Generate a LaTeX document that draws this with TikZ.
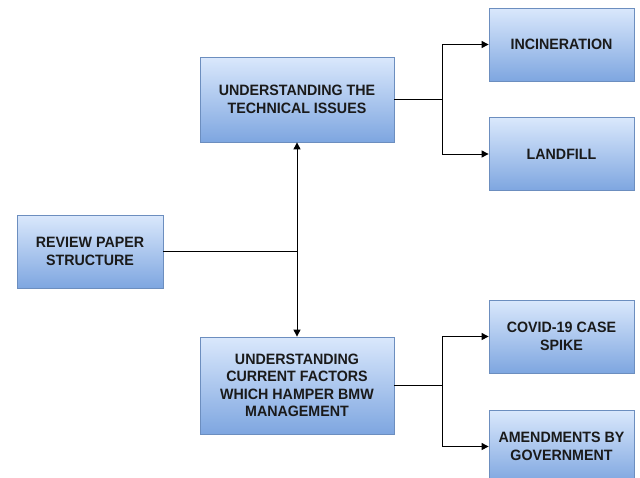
\documentclass[tikz,border=0pt]{standalone}
\usepackage{fontspec}
\setmainfont{Liberation Sans}[FakeStretch=0.95]
\usetikzlibrary{positioning,arrows.meta}
\definecolor{boxtop}{HTML}{DAE8FC}
\definecolor{boxbottom}{HTML}{7EA6E0}
\definecolor{boxline}{HTML}{6C8EBF}
\definecolor{boxtext}{HTML}{1A1A1A}

\begin{document}
\begin{tikzpicture}[x=1pt,y=-1pt,>={Triangle[length=7pt,width=7pt]},
         line width=1pt,
         stage node/.style={rectangle,draw=boxline,line width=0.8pt,top color=boxtop,bottom color=boxbottom,
           text=boxtext,font=\fontsize{15}{17.5}\selectfont\bfseries,align=center,inner sep=0pt}]

     \clip (0,0) rectangle (640,477);
     \useasboundingbox (0,0) rectangle (640,477);

     \node[stage node,minimum width=146pt,minimum height=73pt] (review) at (90,251.5) {REVIEW PAPER\\STRUCTURE};
     \node[stage node,minimum width=194pt,minimum height=85pt] (tech) at (297,99.5) {UNDERSTANDING THE\\TECHNICAL ISSUES};
     \node[stage node,minimum width=194pt,minimum height=97pt] (factors) at (297,385.5) {UNDERSTANDING\\CURRENT FACTORS\\WHICH HAMPER BMW\\MANAGEMENT};

     \node[stage node,minimum width=145pt,minimum height=73pt] (incin) at (561.5,44.5) {INCINERATION};
     \node[stage node,minimum width=145pt,minimum height=73pt] (landfill) at (561.5,154) {LANDFILL};
     \node[stage node,minimum width=145pt,minimum height=73pt] (covid) at (561.5,336.5) {COVID-19 CASE\\SPIKE};
     \node[stage node,minimum width=145pt,minimum height=73pt] (amend) at (561.5,446.5) {AMENDMENTS BY\\GOVERNMENT};

     \coordinate (hub) at (tech.south |- review.east);
     \coordinate (split top) at (442,99.5);
     \coordinate (split bottom) at (442,385.5);

     \draw (review.east) -- (hub);
     \draw[->] (hub) -- (tech.south);
     \draw[->] (hub) -- (factors.north);

     \draw (tech.east) -- (split top);
     \draw[->] (split top) |- (incin.west);
     \draw[->] (split top) |- (landfill.west);

     \draw (factors.east) -- (split bottom);
     \draw[->] (split bottom) |- (covid.west);
     \draw[->] (split bottom) |- (amend.west);
 \end{tikzpicture}
\end{document}
